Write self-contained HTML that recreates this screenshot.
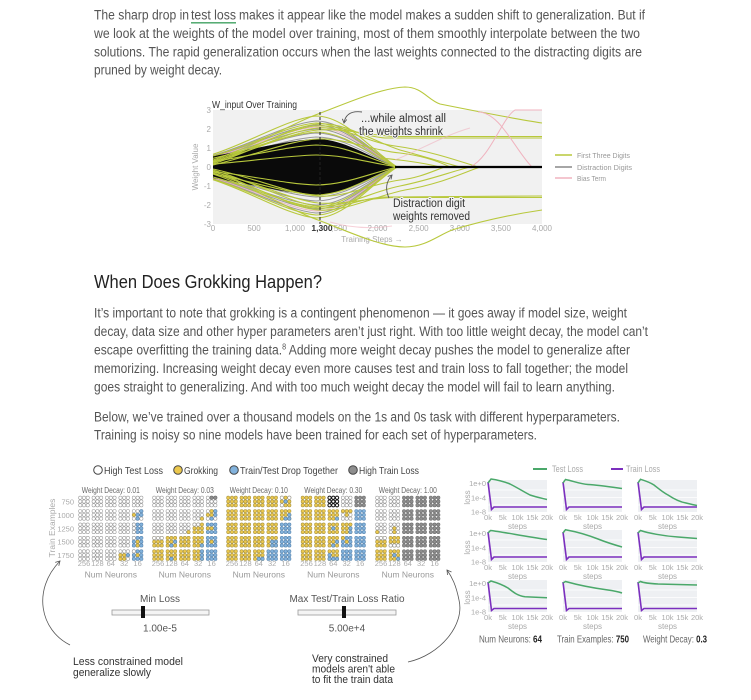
<!DOCTYPE html>
<html><head><meta charset="utf-8"><style>
html,body{margin:0;padding:0;background:#fff}
svg{display:block;font-family:"Liberation Sans",Arial,sans-serif}
.W{fill:#fff;stroke:#9a9a9a;stroke-width:.6}
.Y{fill:#ecc84d;stroke:#a89544;stroke-width:.6}
.B{fill:#82b2dc;stroke:#5b87b0;stroke-width:.6}
.G{fill:#8e8e8e;stroke:#707070;stroke-width:.6}
.D{fill:#fff;stroke:#111;stroke-width:1}
.p{font-size:13.5px;fill:#555}
.tk{font-size:8px;fill:#aaa}
.gl{font-size:7.5px;fill:#aaa}
</style></head><body>
<svg width="751" height="700" viewBox="0 0 751 700" xmlns="http://www.w3.org/2000/svg">
<defs>
<g id="c">
<circle cx="-3.75" cy="-3.75" r="1.65"/><circle cx="0" cy="-3.75" r="1.65"/><circle cx="3.75" cy="-3.75" r="1.65"/>
<circle cx="-3.75" cy="0" r="1.65"/><circle cx="0" cy="0" r="1.65"/><circle cx="3.75" cy="0" r="1.65"/>
<circle cx="-3.75" cy="3.75" r="1.65"/><circle cx="0" cy="3.75" r="1.65"/><circle cx="3.75" cy="3.75" r="1.65"/>
</g>
</defs>
<rect width="751" height="700" fill="#fff"/>

<!-- Paragraph 1 -->
<text class="p" x="94" y="19.5" textLength="95" lengthAdjust="spacingAndGlyphs">The sharp drop in</text>
<text class="p" x="191" y="19.5" textLength="45" lengthAdjust="spacingAndGlyphs">test loss</text>
<text class="p" x="239" y="19.5" textLength="406" lengthAdjust="spacingAndGlyphs">makes it appear like the model makes a sudden shift to generalization. But if</text>
<line x1="191" y1="22.8" x2="236" y2="22.8" stroke="#3fa060" stroke-width="1.3"/>
<text class="p" x="94" y="38" textLength="546" lengthAdjust="spacingAndGlyphs">we look at the weights of the model over training, most of them smoothly interpolate between the two</text>
<text class="p" x="94" y="56.3" textLength="548" lengthAdjust="spacingAndGlyphs">solutions. The rapid generalization occurs when the last weights connected to the distracting digits are</text>
<text class="p" x="94" y="74.6" textLength="128" lengthAdjust="spacingAndGlyphs">pruned by weight decay.</text>

<!-- Chart -->
<rect x="213" y="110" width="329" height="114" fill="#f1f1f1"/>
<text x="212" y="108" font-size="10" fill="#333" textLength="85" lengthAdjust="spacingAndGlyphs">W_input Over Training</text>
<g class="tk" text-anchor="end">
<text x="211" y="113">3</text><text x="211" y="132">2</text><text x="211" y="151">1</text><text x="211" y="170">0</text>
<text x="211" y="189">-1</text><text x="211" y="208">-2</text><text x="211" y="227">-3</text>
</g>
<text class="tk" transform="translate(198,167) rotate(-90)" text-anchor="middle">Weight Value</text>
<g class="tk" text-anchor="middle">
<text x="213" y="231">0</text><text x="254" y="231">500</text><text x="295" y="231">1,000</text><text x="337" y="231">1,500</text>
<text x="377.5" y="231">2,000</text><text x="418.6" y="231">2,500</text><text x="459.8" y="231">3,000</text><text x="500.9" y="231">3,500</text><text x="542" y="231">4,000</text>
</g>
<text x="322" y="231" font-size="8.5" font-weight="bold" fill="#333" text-anchor="middle" stroke="#fff" stroke-width="2" paint-order="stroke">1,300</text>
<text class="tk" x="372" y="242" text-anchor="middle" font-size="8.5">Training Steps →</text>

<!-- gray lines -->
<g fill="none" stroke="#888" stroke-width="1" opacity=".85">
<path d="M213,159.5 C250,152.6 288,138.5 316,137 C345,137 370,156.5 397,167"/>
<path d="M213,174.5 C250,181.4 288,195.5 316,197 C345,197 370,177.5 397,167"/>
<path d="M213,158.5 C250,150.7 288,134.7 316,133 C345,133 370,155.1 397,167"/>
<path d="M213,175.5 C250,183.3 288,199.3 316,201 C345,201 370,178.9 397,167"/>
<path d="M213,157.5 C250,148.8 288,130.9 316,129 C345,129 370,153.7 397,167"/>
<path d="M213,176.5 C250,185.2 288,203.1 316,205 C345,205 370,180.3 397,167"/>
<path d="M213,156.5 C250,146.8 288,127.1 316,125 C345,125 370,152.3 397,167"/>
<path d="M213,177.5 C250,187.2 288,206.9 316,209 C345,209 370,181.7 397,167"/>
<path d="M213,155.5 C250,144.9 288,123.3 316,121 C345,121 370,150.9 397,167"/>
<path d="M213,178.5 C250,189.1 288,210.7 316,213 C345,213 370,183.1 397,167"/>
</g>
<g fill="none" stroke="#e6aabb" stroke-width="1" opacity=".8">
<path d="M213,157 C250,147.8 288,129 316,127 C345,127 370,153 397,167"/>
<path d="M213,178 C250,188.1 288,208.8 316,211 C345,211 370,182.4 397,167"/>
</g>
<!-- black core -->
<path d="M213,156 C250,150 290,140 316,139 C345,139 370,158 397,167 C370,176 345,195 316,195 C290,194 250,184 213,178 Z" fill="#0a0a0a"/>
<!-- green lens lines -->
<g fill="none" stroke="#b8c83c" stroke-width="1.1">
<path d="M213,154.3 C250,142.5 288,118.5 316,116 C345,116 370,149.1 397,167"/>
<path d="M213,179.7 C250,191.5 288,215.5 316,218 C345,218 370,184.9 397,167"/>
<path d="M213,156 C250,145.9 288,125.2 316,123 C345,123 370,151.6 397,167"/>
<path d="M213,177 C250,186.2 288,205 316,207 C345,207 370,181 397,167"/>
<path d="M213,158.3 C250,150.2 288,133.8 316,132 C345,132 370,154.8 397,167"/>
<path d="M213,174 C250,180.4 288,193.6 316,195 C345,195 370,176.8 397,167"/>
<path d="M213,161.5 C250,156.4 288,146.1 316,145 C345,145 370,159.3 397,167"/>
<path d="M213,171.5 C250,175.6 288,184.1 316,185 C345,185 370,173.3 397,167"/>
<path d="M213,164 C250,161.2 288,155.6 316,155 C345,155 370,162.8 397,167"/>
<path d="M213,179 C250,190 288,212.6 316,215 C345,215 370,183.8 397,167"/>
<!-- persistent / late -->
<path d="M213,160 C255,146 295,122 318,114 C345,104 380,88 405,87 C422,87 428,100 440,104 C480,112 515,119 542,123"/>
<path d="M213,174 C255,188 295,212 318,220 C345,230 380,247 405,247 C425,247 437,236 452,230 C485,220 515,214 542,210"/>
<path d="M213,161 C250,150 290,128 315,126 C340,124 360,136 385,138 L542,138"/>
<path d="M213,162 C255,150 292,132 318,130 C345,128 365,135 395,136.5 L542,136.5"/>
<path d="M213,173 C250,184 290,206 315,208 C340,210 360,198 385,197 L542,196"/>
<path d="M213,172 C255,182 292,200 318,203 C345,205 365,198 395,197.5 L542,197.5"/>
<path d="M213,164 C255,150 290,130 318,128 C345,126 365,142 395,146 C425,150 450,158 478,167"/>
<path d="M213,163 C255,148 292,126 318,124 C345,122 370,140 400,150 C430,158 445,163 460,167"/>
<path d="M213,170 C255,182 292,204 318,206 C345,208 370,192 400,186 C430,180 450,172 470,167"/>
<path d="M213,171 C255,186 292,208 318,210 C345,212 375,196 405,190 C440,184 460,174 480,167"/>
<path d="M213,165 C255,155 292,140 318,139 C345,138 370,150 400,153 C425,156 440,162 450,167"/>
<path d="M213,169 C255,178 292,194 318,196 C345,198 370,184 400,180 C420,178 435,170 445,167"/>
<path d="M380,158 C400,160 420,162 440,167"/>
</g>
<g fill="none" stroke="#f0b3bf" stroke-width="1">
<path d="M470,167 C490,158 502,118 515,110 L542,110"/>
<path d="M478,112 C500,112 515,150 532,167"/>
<path d="M395,160 C420,150 445,135 470,128" opacity=".6"/>
<path d="M330,222 C350,228 370,229 392,226" opacity=".6"/>
</g>
<line x1="395" y1="167" x2="542" y2="167" stroke="#000" stroke-width="2.2"/>
<line x1="320" y1="112" x2="320" y2="224" stroke="#222" stroke-width="1" stroke-dasharray="3,2"/>

<g font-size="11.5" fill="#333" stroke="#f1f1f1" stroke-width="2" paint-order="stroke">
<text x="361" y="122" textLength="85" lengthAdjust="spacingAndGlyphs">...while almost all</text>
<text x="359" y="135" textLength="84" lengthAdjust="spacingAndGlyphs">the weights shrink</text>
<text x="393" y="207" textLength="72" lengthAdjust="spacingAndGlyphs">Distraction digit</text>
<text x="393" y="220" textLength="77" lengthAdjust="spacingAndGlyphs">weights removed</text>
</g>
<g fill="none" stroke="#555" stroke-width=".9">
<path d="M362,112 Q346,110 344,123"/><path d="M346.8,119.5 L344,123 L342.4,118.8"/>
<path d="M389,198 Q383,185 392,175"/><path d="M387.7,176.4 L392,175 L391,179.4"/>
</g>

<!-- chart legend -->
<line x1="555" y1="155" x2="572" y2="155" stroke="#b8c83c" stroke-width="1.5"/>
<line x1="555" y1="167" x2="572" y2="167" stroke="#888" stroke-width="1.5"/>
<line x1="555" y1="178" x2="572" y2="178" stroke="#f0b3bf" stroke-width="1.5"/>
<g font-size="7.5" fill="#999">
<text x="577" y="158" textLength="53" lengthAdjust="spacingAndGlyphs">First Three Digits</text>
<text x="577" y="170" textLength="55" lengthAdjust="spacingAndGlyphs">Distraction Digits</text>
<text x="577" y="181" textLength="29" lengthAdjust="spacingAndGlyphs">Bias Term</text>
</g>

<!-- Heading & paragraphs -->
<text x="94" y="288" font-size="18" fill="#222" textLength="228" lengthAdjust="spacingAndGlyphs">When Does Grokking Happen?</text>
<text class="p" x="94" y="317.5" textLength="533" lengthAdjust="spacingAndGlyphs">It’s important to note that grokking is a contingent phenomenon — it goes away if model size, weight</text>
<text class="p" x="94" y="336" textLength="554" lengthAdjust="spacingAndGlyphs">decay, data size and other hyper parameters aren’t just right. With too little weight decay, the model can’t</text>
<text class="p" x="94" y="354.5" textLength="536" lengthAdjust="spacingAndGlyphs">escape overfitting the training data.<tspan font-size="8" dy="-5">8</tspan><tspan dy="5"> Adding more weight decay pushes the model to generalize after</tspan></text>
<text class="p" x="94" y="373" textLength="534" lengthAdjust="spacingAndGlyphs">memorizing. Increasing weight decay even more causes test and train loss to fall together; the model</text>
<text class="p" x="94" y="391.5" textLength="521" lengthAdjust="spacingAndGlyphs">goes straight to generalizing. And with too much weight decay the model will fail to learn anything.</text>
<text class="p" x="94" y="421.5" textLength="526" lengthAdjust="spacingAndGlyphs">Below, we’ve trained over a thousand models on the 1s and 0s task with different hyperparameters.</text>
<text class="p" x="94" y="439.5" textLength="443" lengthAdjust="spacingAndGlyphs">Training is noisy so nine models have been trained for each set of hyperparameters.</text>

<!-- Grid legend -->
<g stroke="#444" stroke-width="1">
<circle cx="98" cy="470" r="4.3" fill="#fff"/>
<circle cx="178" cy="470" r="4.3" fill="#ecc84d"/>
<circle cx="234" cy="470" r="4.3" fill="#82b2dc"/>
<circle cx="353" cy="470" r="4.3" fill="#8e8e8e"/>
</g>
<g font-size="10.5" fill="#444">
<text x="104" y="474" textLength="59" lengthAdjust="spacingAndGlyphs">High Test Loss</text>
<text x="184" y="474" textLength="34" lengthAdjust="spacingAndGlyphs">Grokking</text>
<text x="240" y="474" textLength="98" lengthAdjust="spacingAndGlyphs">Train/Test Drop Together</text>
<text x="359" y="474" textLength="60" lengthAdjust="spacingAndGlyphs">High Train Loss</text>
</g>

<text transform="translate(55,528) rotate(-90)" text-anchor="middle" font-size="8.5" fill="#aaa">Train Examples</text>
<g class="gl" text-anchor="end">
<text x="74" y="504.5">750</text><text x="74" y="517.9">1000</text><text x="74" y="531.3">1250</text><text x="74" y="544.7">1500</text><text x="74" y="558.1">1750</text>
</g>

<!-- Panel 1 -->
<g transform="translate(84,501.5)">
<text x="26.8" y="-8.5" text-anchor="middle" font-size="8" fill="#666" textLength="58" lengthAdjust="spacingAndGlyphs">Weight Decay: 0.01</text>
<use href="#c" class="W" x="0" y="0"/><use href="#c" class="W" x="13.4" y="0"/><use href="#c" class="W" x="26.8" y="0"/><use href="#c" class="W" x="40.2" y="0"/><use href="#c" class="W" x="53.6" y="0"/>
<use href="#c" class="W" x="0" y="13.4"/><use href="#c" class="W" x="13.4" y="13.4"/><use href="#c" class="W" x="26.8" y="13.4"/><use href="#c" class="W" x="40.2" y="13.4"/><use href="#c" class="W" x="53.6" y="13.4"/>
<circle class="B" cx="57.35" cy="9.65" r="1.65"/><circle class="B" cx="53.6" cy="13.4" r="1.65"/><circle class="B" cx="57.35" cy="13.4" r="1.65"/><circle class="B" cx="53.6" cy="17.15" r="1.65"/><circle class="Y" cx="49.85" cy="13.4" r="1.65"/>
<use href="#c" class="W" x="0" y="26.8"/><use href="#c" class="W" x="13.4" y="26.8"/><use href="#c" class="W" x="26.8" y="26.8"/><use href="#c" class="W" x="40.2" y="26.8"/><use href="#c" class="B" x="53.6" y="26.8"/>
<circle class="W" cx="49.85" cy="23.05" r="1.65"/><circle class="W" cx="49.85" cy="26.8" r="1.65"/><circle class="W" cx="49.85" cy="30.55" r="1.65"/>
<use href="#c" class="W" x="0" y="40.2"/><use href="#c" class="W" x="13.4" y="40.2"/><use href="#c" class="W" x="26.8" y="40.2"/><use href="#c" class="W" x="40.2" y="40.2"/><use href="#c" class="B" x="53.6" y="40.2"/>
<circle class="Y" cx="53.6" cy="40.2" r="1.65"/><circle class="Y" cx="53.6" cy="43.95" r="1.65"/><circle class="W" cx="49.85" cy="36.45" r="1.65"/>
<use href="#c" class="W" x="0" y="53.6"/><use href="#c" class="W" x="13.4" y="53.6"/><use href="#c" class="W" x="26.8" y="53.6"/><use href="#c" class="W" x="40.2" y="53.6"/><use href="#c" class="B" x="53.6" y="53.6"/>
<circle class="Y" cx="36.45" cy="53.6" r="1.65"/><circle class="Y" cx="40.2" cy="53.6" r="1.65"/><circle class="Y" cx="36.45" cy="57.35" r="1.65"/><circle class="Y" cx="40.2" cy="57.35" r="1.65"/><circle class="B" cx="43.95" cy="53.6" r="1.65"/>
<circle class="Y" cx="53.6" cy="53.6" r="1.65"/><circle class="W" cx="49.85" cy="49.85" r="1.65"/>
<g class="gl" text-anchor="middle"><text x="0" y="64.5">256</text><text x="13.4" y="64.5">128</text><text x="26.8" y="64.5">64</text><text x="40.2" y="64.5">32</text><text x="53.6" y="64.5">16</text></g>
<text x="26.8" y="76" text-anchor="middle" font-size="8.5" fill="#999">Num Neurons</text>
</g>

<!-- Panel 2 -->
<g transform="translate(158,501.5)">
<text x="26.8" y="-8.5" text-anchor="middle" font-size="8" fill="#666" textLength="58" lengthAdjust="spacingAndGlyphs">Weight Decay: 0.03</text>
<use href="#c" class="W" x="0" y="0"/><use href="#c" class="W" x="13.4" y="0"/><use href="#c" class="W" x="26.8" y="0"/><use href="#c" class="W" x="40.2" y="0"/><use href="#c" class="W" x="53.6" y="0"/>
<circle class="G" cx="53.6" cy="-3.75" r="1.65"/><circle class="G" cx="57.35" cy="-3.75" r="1.65"/>
<use href="#c" class="W" x="0" y="13.4"/><use href="#c" class="W" x="13.4" y="13.4"/><use href="#c" class="W" x="26.8" y="13.4"/><use href="#c" class="W" x="40.2" y="13.4"/><use href="#c" class="W" x="53.6" y="13.4"/>
<circle class="Y" cx="43.95" cy="17.15" r="1.65"/>
<circle class="Y" cx="53.6" cy="9.65" r="1.65"/><circle class="Y" cx="49.85" cy="13.4" r="1.65"/><circle class="Y" cx="53.6" cy="13.4" r="1.65"/><circle class="B" cx="57.35" cy="9.65" r="1.65"/><circle class="B" cx="57.35" cy="13.4" r="1.65"/><circle class="B" cx="53.6" cy="17.15" r="1.65"/>
<use href="#c" class="W" x="0" y="26.8"/><use href="#c" class="W" x="13.4" y="26.8"/><use href="#c" class="W" x="26.8" y="26.8"/><use href="#c" class="Y" x="40.2" y="26.8"/><use href="#c" class="B" x="53.6" y="26.8"/>
<circle class="Y" cx="30.55" cy="30.55" r="1.65"/><circle class="W" cx="36.45" cy="23.05" r="1.65"/><circle class="W" cx="40.2" cy="23.05" r="1.65"/><circle class="Y" cx="49.85" cy="26.8" r="1.65"/><circle class="Y" cx="53.6" cy="26.8" r="1.65"/>
<use href="#c" class="Y" x="0" y="40.2"/><use href="#c" class="Y" x="13.4" y="40.2"/><use href="#c" class="Y" x="26.8" y="40.2"/><use href="#c" class="Y" x="40.2" y="40.2"/><use href="#c" class="B" x="53.6" y="40.2"/>
<circle class="W" cx="-3.75" cy="36.45" r="1.65"/><circle class="W" cx="0" cy="36.45" r="1.65"/><circle class="W" cx="3.75" cy="36.45" r="1.65"/>
<circle class="B" cx="17.15" cy="40.2" r="1.65"/><circle class="B" cx="13.4" cy="43.95" r="1.65"/><circle class="B" cx="43.95" cy="43.95" r="1.65"/><circle class="Y" cx="53.6" cy="40.2" r="1.65"/>
<use href="#c" class="Y" x="0" y="53.6"/><use href="#c" class="Y" x="13.4" y="53.6"/><use href="#c" class="Y" x="26.8" y="53.6"/><use href="#c" class="Y" x="40.2" y="53.6"/><use href="#c" class="B" x="53.6" y="53.6"/>
<circle class="B" cx="13.4" cy="57.35" r="1.65"/><circle class="B" cx="43.95" cy="49.85" r="1.65"/><circle class="B" cx="43.95" cy="53.6" r="1.65"/><circle class="B" cx="43.95" cy="57.35" r="1.65"/>
<g class="gl" text-anchor="middle"><text x="0" y="64.5">256</text><text x="13.4" y="64.5">128</text><text x="26.8" y="64.5">64</text><text x="40.2" y="64.5">32</text><text x="53.6" y="64.5">16</text></g>
<text x="26.8" y="76" text-anchor="middle" font-size="8.5" fill="#999">Num Neurons</text>
</g>

<!-- Panel 3 -->
<g transform="translate(232,501.5)">
<text x="26.8" y="-8.5" text-anchor="middle" font-size="8" fill="#666" textLength="58" lengthAdjust="spacingAndGlyphs">Weight Decay: 0.10</text>
<use href="#c" class="Y" x="0" y="0"/><use href="#c" class="Y" x="13.4" y="0"/><use href="#c" class="Y" x="26.8" y="0"/><use href="#c" class="Y" x="40.2" y="0"/><use href="#c" class="Y" x="53.6" y="0"/>
<circle class="W" cx="49.85" cy="-3.75" r="1.65"/><circle class="W" cx="57.35" cy="-3.75" r="1.65"/><circle class="W" cx="49.85" cy="3.75" r="1.65"/><circle class="B" cx="53.6" cy="0" r="1.65"/>
<use href="#c" class="Y" x="0" y="13.4"/><use href="#c" class="Y" x="13.4" y="13.4"/><use href="#c" class="Y" x="26.8" y="13.4"/><use href="#c" class="Y" x="40.2" y="13.4"/><use href="#c" class="Y" x="53.6" y="13.4"/>
<circle class="B" cx="57.35" cy="13.4" r="1.65"/><circle class="B" cx="53.6" cy="17.15" r="1.65"/><circle class="B" cx="57.35" cy="17.15" r="1.65"/>
<use href="#c" class="Y" x="0" y="26.8"/><use href="#c" class="Y" x="13.4" y="26.8"/><use href="#c" class="Y" x="26.8" y="26.8"/><use href="#c" class="Y" x="40.2" y="26.8"/><use href="#c" class="B" x="53.6" y="26.8"/>
<use href="#c" class="Y" x="0" y="40.2"/><use href="#c" class="Y" x="13.4" y="40.2"/><use href="#c" class="Y" x="26.8" y="40.2"/><use href="#c" class="Y" x="40.2" y="40.2"/><use href="#c" class="B" x="53.6" y="40.2"/>
<circle class="B" cx="40.2" cy="40.2" r="1.65"/><circle class="B" cx="43.95" cy="40.2" r="1.65"/><circle class="B" cx="40.2" cy="43.95" r="1.65"/><circle class="B" cx="43.95" cy="43.95" r="1.65"/>
<use href="#c" class="Y" x="0" y="53.6"/><use href="#c" class="Y" x="13.4" y="53.6"/><use href="#c" class="Y" x="26.8" y="53.6"/><use href="#c" class="B" x="40.2" y="53.6"/><use href="#c" class="B" x="53.6" y="53.6"/>
<circle class="B" cx="26.8" cy="57.35" r="1.65"/><circle class="B" cx="30.55" cy="57.35" r="1.65"/>
<g class="gl" text-anchor="middle"><text x="0" y="64.5">256</text><text x="13.4" y="64.5">128</text><text x="26.8" y="64.5">64</text><text x="40.2" y="64.5">32</text><text x="53.6" y="64.5">16</text></g>
<text x="26.8" y="76" text-anchor="middle" font-size="8.5" fill="#999">Num Neurons</text>
</g>

<!-- Panel 4 -->
<g transform="translate(306.5,501.5)">
<text x="26.8" y="-8.5" text-anchor="middle" font-size="8" fill="#666" textLength="58" lengthAdjust="spacingAndGlyphs">Weight Decay: 0.30</text>
<use href="#c" class="Y" x="0" y="0"/><use href="#c" class="Y" x="13.4" y="0"/><use href="#c" class="D" x="26.8" y="0"/><use href="#c" class="W" x="40.2" y="0"/><use href="#c" class="G" x="53.6" y="0"/>
<use href="#c" class="Y" x="0" y="13.4"/><use href="#c" class="Y" x="13.4" y="13.4"/><use href="#c" class="Y" x="26.8" y="13.4"/><use href="#c" class="W" x="40.2" y="13.4"/><use href="#c" class="B" x="53.6" y="13.4"/>
<circle class="B" cx="30.55" cy="17.15" r="1.65"/><circle class="Y" cx="36.45" cy="9.65" r="1.65"/><circle class="Y" cx="40.2" cy="9.65" r="1.65"/><circle class="Y" cx="43.95" cy="9.65" r="1.65"/><circle class="Y" cx="40.2" cy="13.4" r="1.65"/>
<use href="#c" class="Y" x="0" y="26.8"/><use href="#c" class="Y" x="13.4" y="26.8"/><use href="#c" class="Y" x="26.8" y="26.8"/><use href="#c" class="Y" x="40.2" y="26.8"/><use href="#c" class="B" x="53.6" y="26.8"/>
<circle class="B" cx="26.8" cy="26.8" r="1.65"/><circle class="B" cx="43.95" cy="26.8" r="1.65"/><circle class="B" cx="43.95" cy="30.55" r="1.65"/>
<use href="#c" class="Y" x="0" y="40.2"/><use href="#c" class="Y" x="13.4" y="40.2"/><use href="#c" class="Y" x="26.8" y="40.2"/><use href="#c" class="B" x="40.2" y="40.2"/><use href="#c" class="B" x="53.6" y="40.2"/>
<circle class="B" cx="30.55" cy="40.2" r="1.65"/><circle class="B" cx="26.8" cy="43.95" r="1.65"/><circle class="Y" cx="36.45" cy="36.45" r="1.65"/><circle class="Y" cx="40.2" cy="40.2" r="1.65"/>
<use href="#c" class="Y" x="0" y="53.6"/><use href="#c" class="Y" x="13.4" y="53.6"/><use href="#c" class="Y" x="26.8" y="53.6"/><use href="#c" class="B" x="40.2" y="53.6"/><use href="#c" class="B" x="53.6" y="53.6"/>
<circle class="B" cx="23.05" cy="53.6" r="1.65"/><circle class="B" cx="23.05" cy="57.35" r="1.65"/><circle class="B" cx="26.8" cy="57.35" r="1.65"/><circle class="B" cx="30.55" cy="57.35" r="1.65"/>
<g class="gl" text-anchor="middle"><text x="0" y="64.5">256</text><text x="13.4" y="64.5">128</text><text x="26.8" y="64.5">64</text><text x="40.2" y="64.5">32</text><text x="53.6" y="64.5">16</text></g>
<text x="26.8" y="76" text-anchor="middle" font-size="8.5" fill="#999">Num Neurons</text>
</g>

<!-- Panel 5 -->
<g transform="translate(381,501.5)">
<text x="26.8" y="-8.5" text-anchor="middle" font-size="8" fill="#666" textLength="58" lengthAdjust="spacingAndGlyphs">Weight Decay: 1.00</text>
<use href="#c" class="W" x="0" y="0"/><use href="#c" class="W" x="13.4" y="0"/><use href="#c" class="G" x="26.8" y="0"/><use href="#c" class="G" x="40.2" y="0"/><use href="#c" class="G" x="53.6" y="0"/>
<use href="#c" class="W" x="0" y="13.4"/><use href="#c" class="W" x="13.4" y="13.4"/><use href="#c" class="G" x="26.8" y="13.4"/><use href="#c" class="G" x="40.2" y="13.4"/><use href="#c" class="G" x="53.6" y="13.4"/>
<use href="#c" class="W" x="0" y="26.8"/><use href="#c" class="W" x="13.4" y="26.8"/><use href="#c" class="G" x="26.8" y="26.8"/><use href="#c" class="G" x="40.2" y="26.8"/><use href="#c" class="G" x="53.6" y="26.8"/>
<circle class="Y" cx="-3.75" cy="30.55" r="1.65"/><circle class="Y" cx="13.4" cy="26.8" r="1.65"/><circle class="Y" cx="13.4" cy="30.55" r="1.65"/>
<use href="#c" class="Y" x="0" y="40.2"/><use href="#c" class="Y" x="13.4" y="40.2"/><use href="#c" class="G" x="26.8" y="40.2"/><use href="#c" class="G" x="40.2" y="40.2"/><use href="#c" class="G" x="53.6" y="40.2"/>
<circle class="W" cx="-3.75" cy="36.45" r="1.65"/><circle class="W" cx="0" cy="36.45" r="1.65"/><circle class="W" cx="3.75" cy="36.45" r="1.65"/>
<circle class="W" cx="9.65" cy="43.95" r="1.65"/><circle class="W" cx="13.4" cy="43.95" r="1.65"/><circle class="W" cx="17.15" cy="43.95" r="1.65"/>
<use href="#c" class="Y" x="0" y="53.6"/><use href="#c" class="Y" x="13.4" y="53.6"/><use href="#c" class="G" x="26.8" y="53.6"/><use href="#c" class="G" x="40.2" y="53.6"/><use href="#c" class="G" x="53.6" y="53.6"/>
<circle class="B" cx="13.4" cy="53.6" r="1.65"/><circle class="B" cx="17.15" cy="57.35" r="1.65"/>
<g class="gl" text-anchor="middle"><text x="0" y="64.5">256</text><text x="13.4" y="64.5">128</text><text x="26.8" y="64.5">64</text><text x="40.2" y="64.5">32</text><text x="53.6" y="64.5">16</text></g>
<text x="26.8" y="76" text-anchor="middle" font-size="8.5" fill="#999">Num Neurons</text>
</g>

<!-- Sliders -->
<g font-size="10" fill="#555" text-anchor="middle">
<text x="160" y="602">Min Loss</text>
<text x="160" y="631.5">1.00e-5</text>
<text x="347" y="602">Max Test/Train Loss Ratio</text>
<text x="347" y="631.5">5.00e+4</text>
</g>
<rect x="112" y="610" width="97" height="5" fill="#f4f4f4" stroke="#999" stroke-width=".8"/>
<rect x="141" y="606" width="4" height="12" fill="#111"/>
<rect x="298" y="610" width="98" height="5" fill="#f4f4f4" stroke="#999" stroke-width=".8"/>
<rect x="342" y="606" width="4" height="12" fill="#111"/>

<!-- Annotations -->
<g font-size="11" fill="#333">
<text x="73" y="665" textLength="110" lengthAdjust="spacingAndGlyphs">Less constrained model</text>
<text x="73" y="676" textLength="78" lengthAdjust="spacingAndGlyphs">generalize slowly</text>
<text x="312" y="662" textLength="76" lengthAdjust="spacingAndGlyphs">Very constrained</text>
<text x="312" y="672.5" textLength="83" lengthAdjust="spacingAndGlyphs">models aren't able</text>
<text x="312" y="683" textLength="81" lengthAdjust="spacingAndGlyphs">to fit the train data</text>
</g>
<g fill="none" stroke="#555" stroke-width=".8">
<path d="M70,645 C40,630 32,590 60,561"/><path d="M55.2,562.4 L60,561 L58.8,565.8"/>
<path d="M408,662 C440,655 465,625 459,600 C456,585 452,577 447,570"/><path d="M447.5,575 L447,570 L451.5,572"/>
</g>

<!-- Small multiples legend -->
<line x1="533" y1="469" x2="547" y2="469" stroke="#4aa86a" stroke-width="2"/>
<text x="552" y="472" font-size="9" fill="#aaa" textLength="31" lengthAdjust="spacingAndGlyphs">Test Loss</text>
<line x1="611" y1="469" x2="623" y2="469" stroke="#7b2fbe" stroke-width="2"/>
<text x="626" y="472" font-size="9" fill="#aaa" textLength="34" lengthAdjust="spacingAndGlyphs">Train Loss</text>

<!-- y labels small multiples -->
<g class="gl" text-anchor="end">
<text x="486" y="486">1e+0</text><text x="486" y="500.5">1e-4</text><text x="486" y="514.5">1e-8</text>
<text x="486" y="536">1e+0</text><text x="486" y="550.5">1e-4</text><text x="486" y="564.5">1e-8</text>
<text x="486" y="586">1e+0</text><text x="486" y="600.5">1e-4</text><text x="486" y="614.5">1e-8</text>
</g>
<g font-size="8" fill="#aaa" text-anchor="middle">
<text transform="translate(470,497.5) rotate(-90)">loss</text>
<text transform="translate(470,547.5) rotate(-90)">loss</text>
<text transform="translate(470,597.5) rotate(-90)">loss</text>
</g>

<!-- small multiple panels -->
<g>
<g transform="translate(488,483)">
<rect x="0" y="-3" width="59" height="32" fill="#eef0f3"/>
<g stroke="#fff" stroke-width=".7"><line x1="0" y1="7" x2="59" y2="7"/><line x1="0" y1="14.5" x2="59" y2="14.5"/><line x1="0" y1="22" x2="59" y2="22"/></g>
<path d="M0,-1 L3.5,26.5 L6,24 L59,24" fill="none" stroke="#7b2fbe" stroke-width="1.6"/>
<path d="M0,0 L3,-4 C10,-3 17,-1 22,1 C30,5 36,9 42,12 C48,14 53,15 59,16.5" fill="none" stroke="#4aa86a" stroke-width="1.5"/>
<g class="gl" text-anchor="middle"><text x="0" y="37">0k</text><text x="14.75" y="37">5k</text><text x="29.5" y="37">10k</text><text x="44.25" y="37">15k</text><text x="59" y="37">20k</text></g>
<text x="29.5" y="46" text-anchor="middle" font-size="8" fill="#aaa">steps</text>
</g>
<g transform="translate(563,483)">
<rect x="0" y="-3" width="59" height="32" fill="#eef0f3"/>
<g stroke="#fff" stroke-width=".7"><line x1="0" y1="7" x2="59" y2="7"/><line x1="0" y1="14.5" x2="59" y2="14.5"/><line x1="0" y1="22" x2="59" y2="22"/></g>
<path d="M0,-1 L3.5,26.5 L6,24 L59,24" fill="none" stroke="#7b2fbe" stroke-width="1.6"/>
<path d="M0,0 L2.5,-3.5 C10,-2 17,1 25,1.5 C35,2 45,3.5 59,5.5" fill="none" stroke="#4aa86a" stroke-width="1.5"/>
<g class="gl" text-anchor="middle"><text x="0" y="37">0k</text><text x="14.75" y="37">5k</text><text x="29.5" y="37">10k</text><text x="44.25" y="37">15k</text><text x="59" y="37">20k</text></g>
<text x="29.5" y="46" text-anchor="middle" font-size="8" fill="#aaa">steps</text>
</g>
<g transform="translate(638,483)">
<rect x="0" y="-3" width="59" height="32" fill="#eef0f3"/>
<g stroke="#fff" stroke-width=".7"><line x1="0" y1="7" x2="59" y2="7"/><line x1="0" y1="14.5" x2="59" y2="14.5"/><line x1="0" y1="22" x2="59" y2="22"/></g>
<path d="M0,-1 L3.5,26.5 L6,24 L59,24" fill="none" stroke="#7b2fbe" stroke-width="1.6"/>
<path d="M0,0 L2.5,-3.7 C8,-2 13,0 16,2 C21,6 25,9.5 30,12 C36,16 42,19 48,20 C52,21 56,22 59,22.5" fill="none" stroke="#4aa86a" stroke-width="1.5"/>
<g class="gl" text-anchor="middle"><text x="0" y="37">0k</text><text x="14.75" y="37">5k</text><text x="29.5" y="37">10k</text><text x="44.25" y="37">15k</text><text x="59" y="37">20k</text></g>
<text x="29.5" y="46" text-anchor="middle" font-size="8" fill="#aaa">steps</text>
</g>

<g transform="translate(488,533)">
<rect x="0" y="-3" width="59" height="32" fill="#eef0f3"/>
<g stroke="#fff" stroke-width=".7"><line x1="0" y1="7" x2="59" y2="7"/><line x1="0" y1="14.5" x2="59" y2="14.5"/><line x1="0" y1="22" x2="59" y2="22"/></g>
<path d="M0,-1 L3.5,26.5 L6,24 L59,24" fill="none" stroke="#7b2fbe" stroke-width="1.6"/>
<path d="M0,0 L2.5,-2.5 C15,-1 35,3 59,6.5" fill="none" stroke="#4aa86a" stroke-width="1.5"/>
<g class="gl" text-anchor="middle"><text x="0" y="37">0k</text><text x="14.75" y="37">5k</text><text x="29.5" y="37">10k</text><text x="44.25" y="37">15k</text><text x="59" y="37">20k</text></g>
<text x="29.5" y="46" text-anchor="middle" font-size="8" fill="#aaa">steps</text>
</g>
<g transform="translate(563,533)">
<rect x="0" y="-3" width="59" height="32" fill="#eef0f3"/>
<g stroke="#fff" stroke-width=".7"><line x1="0" y1="7" x2="59" y2="7"/><line x1="0" y1="14.5" x2="59" y2="14.5"/><line x1="0" y1="22" x2="59" y2="22"/></g>
<path d="M0,-1 L3.5,26.5 L6,24 L59,24" fill="none" stroke="#7b2fbe" stroke-width="1.6"/>
<path d="M0,0 L2.5,-3.3 C15,-1 25,2 35,6 C45,10 52,12 59,14" fill="none" stroke="#4aa86a" stroke-width="1.5"/>
<g class="gl" text-anchor="middle"><text x="0" y="37">0k</text><text x="14.75" y="37">5k</text><text x="29.5" y="37">10k</text><text x="44.25" y="37">15k</text><text x="59" y="37">20k</text></g>
<text x="29.5" y="46" text-anchor="middle" font-size="8" fill="#aaa">steps</text>
</g>
<g transform="translate(638,533)">
<rect x="0" y="-3" width="59" height="32" fill="#eef0f3"/>
<g stroke="#fff" stroke-width=".7"><line x1="0" y1="7" x2="59" y2="7"/><line x1="0" y1="14.5" x2="59" y2="14.5"/><line x1="0" y1="22" x2="59" y2="22"/></g>
<path d="M0,-1 L3.5,26.5 L6,24 L59,24" fill="none" stroke="#7b2fbe" stroke-width="1.6"/>
<path d="M0,0 L2.5,-2.5 C10,0 25,3 40,4 L59,5.5" fill="none" stroke="#4aa86a" stroke-width="1.5"/>
<g class="gl" text-anchor="middle"><text x="0" y="37">0k</text><text x="14.75" y="37">5k</text><text x="29.5" y="37">10k</text><text x="44.25" y="37">15k</text><text x="59" y="37">20k</text></g>
<text x="29.5" y="46" text-anchor="middle" font-size="8" fill="#aaa">steps</text>
</g>

<g transform="translate(488,583)">
<rect x="0" y="-3" width="59" height="32" fill="#eef0f3"/>
<g stroke="#fff" stroke-width=".7"><line x1="0" y1="7" x2="59" y2="7"/><line x1="0" y1="14.5" x2="59" y2="14.5"/><line x1="0" y1="22" x2="59" y2="22"/></g>
<path d="M0,-1 L3.5,27.5 L6,25.5 L59,25.5" fill="none" stroke="#7b2fbe" stroke-width="1.6"/>
<path d="M0,0 L3,-2 C10,0 15,2 20,5 C25,9 30,13 37,13.7 L59,14.7" fill="none" stroke="#4aa86a" stroke-width="1.5"/>
<g class="gl" text-anchor="middle"><text x="0" y="37">0k</text><text x="14.75" y="37">5k</text><text x="29.5" y="37">10k</text><text x="44.25" y="37">15k</text><text x="59" y="37">20k</text></g>
<text x="29.5" y="46" text-anchor="middle" font-size="8" fill="#aaa">steps</text>
</g>
<g transform="translate(563,583)">
<rect x="0" y="-3" width="59" height="32" fill="#eef0f3"/>
<g stroke="#fff" stroke-width=".7"><line x1="0" y1="7" x2="59" y2="7"/><line x1="0" y1="14.5" x2="59" y2="14.5"/><line x1="0" y1="22" x2="59" y2="22"/></g>
<path d="M0,-1 L3.5,27.5 L6,25.5 L59,25.5" fill="none" stroke="#7b2fbe" stroke-width="1.6"/>
<path d="M0,0 L2.5,-1.5 C15,2 30,5 45,7 C52,8 56,9 59,10" fill="none" stroke="#4aa86a" stroke-width="1.5"/>
<g class="gl" text-anchor="middle"><text x="0" y="37">0k</text><text x="14.75" y="37">5k</text><text x="29.5" y="37">10k</text><text x="44.25" y="37">15k</text><text x="59" y="37">20k</text></g>
<text x="29.5" y="46" text-anchor="middle" font-size="8" fill="#aaa">steps</text>
</g>
<g transform="translate(638,583)">
<rect x="0" y="-3" width="59" height="32" fill="#eef0f3"/>
<g stroke="#fff" stroke-width=".7"><line x1="0" y1="7" x2="59" y2="7"/><line x1="0" y1="14.5" x2="59" y2="14.5"/><line x1="0" y1="22" x2="59" y2="22"/></g>
<path d="M0,-1 L3.5,27.5 L6,25.5 L59,25.5" fill="none" stroke="#7b2fbe" stroke-width="1.6"/>
<path d="M0,0 L2.5,-1.5 C6,0 10,0.5 20,1 L59,2" fill="none" stroke="#4aa86a" stroke-width="1.5"/>
<g class="gl" text-anchor="middle"><text x="0" y="37">0k</text><text x="14.75" y="37">5k</text><text x="29.5" y="37">10k</text><text x="44.25" y="37">15k</text><text x="59" y="37">20k</text></g>
<text x="29.5" y="46" text-anchor="middle" font-size="8" fill="#aaa">steps</text>
</g>
</g>

<g font-size="10" fill="#666">
<text x="479" y="642.5" textLength="63" lengthAdjust="spacingAndGlyphs">Num Neurons: <tspan font-weight="bold" fill="#222">64</tspan></text>
<text x="557" y="642.5" textLength="72" lengthAdjust="spacingAndGlyphs">Train Examples: <tspan font-weight="bold" fill="#222">750</tspan></text>
<text x="643" y="642.5" textLength="64" lengthAdjust="spacingAndGlyphs">Weight Decay: <tspan font-weight="bold" fill="#222">0.3</tspan></text>
</g>
</svg>
</body></html>
